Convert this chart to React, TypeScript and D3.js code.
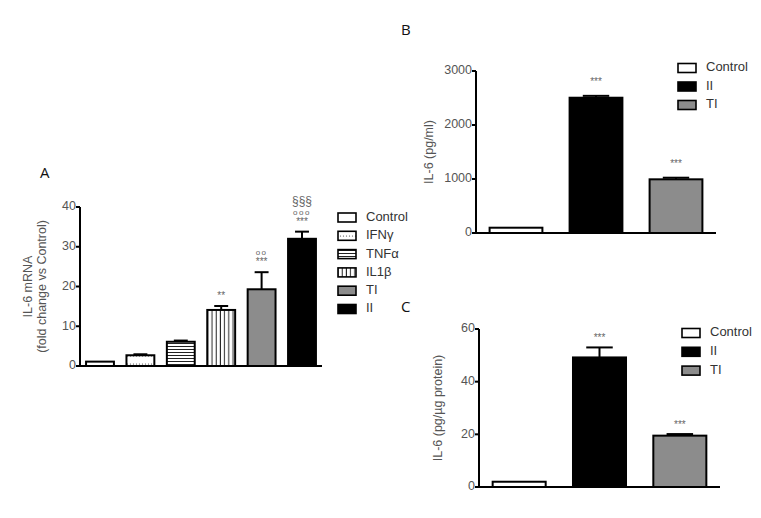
import React from "react";
import * as d3 from "d3";

// Panel A
const catsA = ["Control", "IFNγ", "TNFα", "IL1β", "TI", "II"];
const valsA = [1.1, 2.7, 6.1, 14.1, 19.3, 32.0];
const errA = [0, 0.25, 0.3, 1.0, 4.3, 1.8];
const ticksA = [0, 10, 20, 30, 40];
const fillsA = ["white", "url(#dots)", "url(#hlines)", "url(#vlines)", "#8c8c8c", "black"];
const sigA = [[], [], [], ["**"], ["***", "oo"], ["***", "ooo", "§§§"]];

// Panel B
const catsB = ["Control", "II", "TI"];
const valsB = [98, 2505, 994];
const errB = [0, 35, 30];
const ticksB = [0, 1000, 2000, 3000];
const sigB = [[], ["***"], ["***"]];

// Panel C
const catsC = ["Control", "II", "TI"];
const valsC = [2.0, 49.2, 19.5];
const errC = [0, 3.8, 0.6];
const ticksC = [0, 20, 40, 60];
const sigC = [[], ["***"], ["***"]];
const fillsBC = ["white", "black", "#8c8c8c"];

const FONT = "Liberation Sans, Arial, sans-serif";

type PanelProps = {
  cats: string[];
  vals: number[];
  errs: number[];
  ticks: number[];
  fills: string[];
  sig: string[][];
  x0: number;
  x1: number;
  y0: number;
  y1: number;
  yMax: number;
  padIn: number;
  padOut: number;
  capFrac: number;
  titleLines: string[];
  titleX: number;
  label: string;
  labelX: number;
  labelY: number;
  legX: number;
  legY: number;
  legStep: number;
  sigStep: number;
  sigGap: number;
};

function Panel(p: PanelProps) {
  const x = d3.scaleBand<string>().domain(p.cats).range([p.x0, p.x1]).paddingInner(p.padIn).paddingOuter(p.padOut);
  const y = d3.scaleLinear().domain([0, p.yMax]).range([p.y0, p.y1]);
  const bw = x.bandwidth();
  const cy = (p.y0 + p.y1) / 2;
  return (
    <g fontFamily={FONT}>
      <text x={p.labelX} y={p.labelY} fontSize={15} fill="#111" fontFamily="Open Sans, sans-serif">{p.label}</text>
      {p.titleLines.map((t, i) => (
        <text key={i} transform={`translate(${p.titleX + i * 14},${cy}) rotate(-90)`} textAnchor="middle"
          dominantBaseline="middle" fontSize={12.5} fill="#555">{t}</text>
      ))}
      {p.cats.map((c, i) => {
        const bx = x(c)!;
        const top = y(p.vals[i]);
        const etop = y(p.vals[i] + p.errs[i]);
        const cx = bx + bw / 2;
        const cap = bw * p.capFrac;
        return (
          <g key={c}>
            {p.errs[i] > 0 && (
              <g stroke="black" strokeWidth={2}>
                <line x1={cx} x2={cx} y1={top} y2={etop} />
                <line x1={cx - cap / 2} x2={cx + cap / 2} y1={etop} y2={etop} />
              </g>
            )}
            <rect x={bx} y={top} width={bw} height={p.y0 - top} fill={p.fills[i]} stroke="black" strokeWidth={2} />
            {p.sig[i].map((s, k) => (
              <text key={k} x={cx} y={etop - p.sigGap - k * p.sigStep} textAnchor="middle"
                fontSize={s.startsWith("§") ? 12 : s.startsWith("o") ? 8 : 10}
                letterSpacing={s.startsWith("o") ? 1.5 : 0}
                fill="#666">{s}</text>
            ))}
          </g>
        );
      })}
      <line x1={p.x0} x2={p.x0} y1={p.y0 + 1} y2={p.y1} stroke="black" strokeWidth={2} />
      <line x1={p.x0 - 1} x2={p.x1} y1={p.y0} y2={p.y0} stroke="black" strokeWidth={2} />
      {p.ticks.map((t) => (
        <g key={t}>
          <line x1={p.x0 - 4} x2={p.x0} y1={y(t)} y2={y(t)} stroke="black" strokeWidth={2} />
          <text x={p.x0 - 4} y={y(t)} textAnchor="end" dominantBaseline="middle" fontSize={12.5} fill="#555">{t}</text>
        </g>
      ))}
      {p.cats.map((c, i) => (
        <g key={"l" + c}>
          <rect x={p.legX} y={p.legY + i * p.legStep - 4.5} width={18} height={9} fill={p.fills[i]} stroke="black" strokeWidth={1.6} />
          <text x={p.legX + 28} y={p.legY + i * p.legStep} dominantBaseline="middle" fontSize={13} fill="#333">{c}</text>
        </g>
      ))}
    </g>
  );
}

export default function App() {
  return (
    <svg width={761} height={518} style={{ position: "absolute", left: 0, top: 0, background: "white" }}>
      <defs>
        <pattern id="dots" patternUnits="userSpaceOnUse" width={3} height={8}>
          <rect width={3} height={8} fill="white" />
          <circle cx={1.5} cy={4} r={0.6} fill="#444" />
        </pattern>
        <pattern id="hlines" patternUnits="userSpaceOnUse" width={4} height={3}>
          <rect width={4} height={3} fill="white" />
          <line x1={0} x2={4} y1={1.5} y2={1.5} stroke="#222" strokeWidth={1} />
        </pattern>
        <pattern id="vlines" patternUnits="userSpaceOnUse" width={4.2} height={4}>
          <rect width={4.2} height={4} fill="white" />
          <line x1={2} x2={2} y1={0} y2={4} stroke="#222" strokeWidth={1} />
        </pattern>
      </defs>
      <rect width={761} height={518} fill="white" />
      <Panel cats={catsA} vals={valsA} errs={errA} ticks={ticksA} fills={fillsA} sig={sigA}
        x0={80} x1={322} y0={366} y1={207} yMax={40} padIn={0.31} padOut={0.15} capFrac={0.5}
        titleLines={["IL-6 mRNA", "(fold change vs Control)"]} titleX={29}
        label="A" labelX={40} labelY={178} legX={338} legY={217.5} legStep={18.3} sigStep={10} sigGap={7} />
      <Panel cats={catsB} vals={valsB} errs={errB} ticks={ticksB} fills={fillsBC} sig={sigB}
        x0={476} x1={716} y0={233} y1={71} yMax={3000} padIn={0.34} padOut={0.17} capFrac={0.5}
        titleLines={["IL-6 (pg/ml)"]} titleX={430}
        label="B" labelX={401} labelY={35} legX={678} legY={68} legStep={18.5} sigStep={10} sigGap={11} />
      <Panel cats={catsC} vals={valsC} errs={errC} ticks={ticksC} fills={fillsBC} sig={sigC}
        x0={479} x1={720} y0={487} y1={329} yMax={60} padIn={0.34} padOut={0.17} capFrac={0.5}
        titleLines={["IL-6 (pg/µg protein)"]} titleX={439}
        label="C" labelX={401} labelY={312} legX={682} legY={333} legStep={18.8} sigStep={10} sigGap={6} />
    </svg>
  );
}
